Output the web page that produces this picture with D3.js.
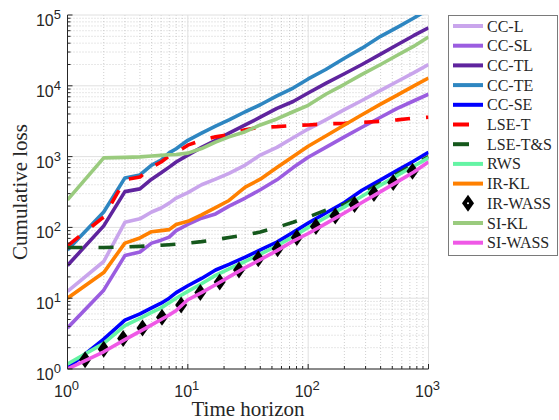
<!DOCTYPE html>
<html>
<head>
<meta charset="utf-8">
<script src="https://cdn.jsdelivr.net/npm/d3@7"></script>
<style>
  body { margin: 0; background: #fff; }
  svg text { fill: #262626; }
</style>
</head>
<body>
<div id="chart"></div>
<script>
// time steps that the curves are sampled at
const steps = [1, 2, 3, 4, 5, 6, 7, 8, 10, 13, 17, 22, 30, 40, 55, 75, 100, 140, 200, 280, 400, 550, 750, 1000];

const ccL  = [12.5, 33, 118, 132, 165, 188, 220, 260, 310, 400, 480, 580, 760, 1050, 1350, 1850, 2450, 3300, 4600, 6200, 8600, 11500, 15200, 20000];
const ccSL = [3.8, 13, 40, 45, 60, 66, 73, 90, 110, 135, 155, 200, 260, 340, 470, 700, 980, 1350, 1900, 2600, 3600, 4800, 6100, 7600];
const ccTL = [29, 105, 320, 350, 480, 590, 710, 840, 1050, 1350, 1700, 2150, 2800, 3600, 4800, 6000, 7900, 10800, 14800, 20000, 28000, 38000, 51000, 66000];
const ccTE = [48, 165, 500, 550, 760, 890, 1130, 1290, 1700, 2150, 2700, 3300, 4300, 5400, 7200, 9300, 12500, 17000, 24500, 34000, 50000, 67000, 90000, 120000];
const ccSE = [1.03, 2.65, 4.9, 6.0, 7.3, 8.5, 10, 12, 15, 19, 25, 30, 38, 48, 62, 85, 115, 160, 225, 335, 470, 640, 860, 1150];
const lseT = [55, 140, 470, 515, 710, 840, 1020, 1130, 1450, 1700, 1900, 2050, 2400, 2600, 2650, 2750, 2800, 2900, 2950, 3050, 3150, 3300, 3500, 3600];
const lseTS = [52, 52, 53, 54, 55, 56, 57, 58, 60, 63, 67, 72, 78, 86, 100, 118, 140, 175, 210, 300, 420, 570, 770, 1000];
const rws  = [1.18, 2.3, 4.1, 5.2, 6.3, 7.3, 8.6, 10, 12.5, 16, 21, 26, 33, 42, 55, 74, 100, 138, 195, 275, 395, 540, 730, 960];
const irKL = [10, 23, 60, 71, 87, 90, 93, 110, 122, 150, 190, 240, 370, 480, 700, 1000, 1400, 1950, 2800, 3900, 5500, 7400, 9900, 12900];
const siKL = [245, 960, 975, 990, 1020, 1040, 1060, 1070, 1120, 1300, 1600, 1900, 2250, 2800, 3400, 4300, 5300, 7600, 10500, 14500, 20000, 27000, 36000, 49000];
const siW  = [1, 1.75, 2.6, 3.4, 4.2, 5.0, 5.8, 6.7, 9.5, 12, 15.5, 20, 27, 35, 47, 64, 82, 113, 160, 225, 320, 440, 600, 840];

// IR-WASS is drawn as markers only, at its own steps
const irWSteps = [1.4, 2, 2.9, 4.2, 6.1, 8.8, 12.7, 18.4, 26.6, 38.5, 55.7, 80.5, 116, 168, 243, 352, 509, 736];
const irW      = [1.35, 1.9, 2.7, 3.8, 5.4, 8, 12, 17, 25, 36, 50, 72, 103, 145, 210, 300, 430, 620];

const names = ["CC-L", "CC-SL", "CC-TL", "CC-TE", "CC-SE", "LSE-T", "LSE-T&S", "RWS", "IR-KL", "IR-WASS", "SI-KL", "SI-WASS"];
const colors = ["#c9a5ec", "#9b5de0", "#5f249e", "#2e86c1", "#0000ff", "#ff0000", "#15581c", "#64f4a4", "#ff8000", "#000000", "#9acb7e", "#ef58e6"];
const values = [ccL, ccSL, ccTL, ccTE, ccSE, lseT, lseTS, rws, irKL, irW, siKL, siW];
const dashed = [false, false, false, false, false, true, true, false, false, false, false, false];

const xTicks = [1, 10, 100, 1000];
const yTicks = [1, 10, 100, 1000, 10000, 100000];

const w = 559, h = 420;
const mLeft = 67.5, mRight = 428.5, mTop = 15, mBottom = 369;

const svg = d3.select("#chart").append("svg")
  .attr("width", w)
  .attr("height", h);

const x = d3.scaleLog().domain([1, 1000]).range([mLeft, mRight]);
const y = d3.scaleLog().domain([1, 100000]).range([mBottom, mTop]);

// minor grid (2..9 inside each decade)
const minorX = [], minorY = [];
for (let d = 1; d < 1000; d *= 10) for (let k = 2; k < 10; k++) minorX.push(d * k);
for (let d = 1; d < 100000; d *= 10) for (let k = 2; k < 10; k++) minorY.push(d * k);

const grid = svg.append("g");
grid.selectAll(".mx").data(minorX).enter().append("line")
  .attr("x1", d => x(d)).attr("x2", d => x(d))
  .attr("y1", mTop).attr("y2", mBottom)
  .attr("stroke", "#c4c4c4").attr("stroke-width", 0.8).attr("stroke-dasharray", "1,2");
grid.selectAll(".my").data(minorY).enter().append("line")
  .attr("y1", d => y(d)).attr("y2", d => y(d))
  .attr("x1", mLeft).attr("x2", mRight)
  .attr("stroke", "#c4c4c4").attr("stroke-width", 0.8).attr("stroke-dasharray", "1,2");
grid.selectAll(".gx").data(xTicks).enter().append("line")
  .attr("x1", d => x(d)).attr("x2", d => x(d))
  .attr("y1", mTop).attr("y2", mBottom)
  .attr("stroke", "#e0e0e0").attr("stroke-width", 1);
grid.selectAll(".gy").data(yTicks).enter().append("line")
  .attr("y1", d => y(d)).attr("y2", d => y(d))
  .attr("x1", mLeft).attr("x2", mRight)
  .attr("stroke", "#e0e0e0").attr("stroke-width", 1);

svg.append("clipPath").attr("id", "clip")
  .append("rect").attr("x", mLeft).attr("y", mTop)
  .attr("width", mRight - mLeft).attr("height", mBottom - mTop);

const plot = svg.append("g").attr("clip-path", "url(#clip)");
const line = d3.line().x(d => x(d[0])).y(d => y(d[1]));

values.forEach((vals, i) => {
  if (names[i] == "IR-WASS") {
    plot.append("g").selectAll("path")
      .data(irWSteps.map((t, j) => [t, vals[j]]))
      .enter().append("path")
      .attr("transform", d => "translate(" + x(d[0]) + "," + y(d[1]) + ")")
      .attr("d", "M0,-8.5L6,0L0,8.5L-6,0Z")
      .attr("fill", "#000");
    return;
  }
  plot.append("path")
    .datum(steps.map((t, j) => [t, vals[j]]))
    .attr("d", line)
    .attr("fill", "none")
    .attr("stroke", colors[i])
    .attr("stroke-width", 3.6)
    .attr("stroke-linejoin", "round")
    .attr("stroke-dasharray", dashed[i] ? "15,16" : null);
});

// axes: plain lines, ticks pointing inward
const axes = svg.append("g");
axes.append("line").attr("x1", mLeft).attr("x2", mLeft).attr("y1", mTop).attr("y2", mBottom)
  .attr("stroke", "#262626").attr("stroke-width", 1);
axes.append("line").attr("x1", mLeft).attr("x2", mRight).attr("y1", mBottom).attr("y2", mBottom)
  .attr("stroke", "#262626").attr("stroke-width", 1);

axes.selectAll(".tx").data(xTicks.concat(minorX)).enter().append("line")
  .attr("x1", d => x(d)).attr("x2", d => x(d))
  .attr("y1", mBottom).attr("y2", d => xTicks.includes(d) ? mBottom - 5 : mBottom - 3)
  .attr("stroke", "#262626").attr("stroke-width", 1);
axes.selectAll(".ty").data(yTicks.concat(minorY)).enter().append("line")
  .attr("y1", d => y(d)).attr("y2", d => y(d))
  .attr("x1", mLeft).attr("x2", d => yTicks.includes(d) ? mLeft + 5 : mLeft + 3)
  .attr("stroke", "#262626").attr("stroke-width", 1);

const tickFont = "'Liberation Sans Narrow', 'Liberation Sans', Arial, sans-serif";

function powLabel(sel) {
  sel.append("tspan").text("10");
  sel.append("tspan").attr("dy", -7).attr("font-size", 13).text(d => Math.round(Math.log10(d)));
}

axes.selectAll(".lx").data(xTicks).enter().append("text")
  .attr("x", d => x(d) - 1)
  .attr("y", 397)
  .attr("text-anchor", "middle")
  .attr("font-family", tickFont)
  .attr("font-size", 16)
  .call(powLabel);

axes.selectAll(".ly").data(yTicks).enter().append("text")
  .attr("x", 61)
  .attr("y", d => y(d) + 11)
  .attr("text-anchor", "end")
  .attr("font-family", tickFont)
  .attr("font-size", 16)
  .call(powLabel);

const serif = "'Liberation Serif', 'Times New Roman', serif";

svg.append("text")
  .attr("x", (mLeft + mRight) / 2)
  .attr("y", 416)
  .attr("text-anchor", "middle")
  .attr("font-family", serif)
  .attr("font-size", 21)
  .text("Time horizon");

svg.append("text")
  .attr("transform", "translate(27," + (mTop + mBottom) / 2 + ") rotate(-90)")
  .attr("text-anchor", "middle")
  .attr("font-family", serif)
  .attr("font-size", 21)
  .text("Cumulative loss");

// legend
const legend = svg.append("g");
legend.append("rect")
  .attr("x", 448.5).attr("y", 15.5)
  .attr("width", 109).attr("height", 240)
  .attr("fill", "#fff").attr("stroke", "#7a7a7a").attr("stroke-width", 1);

names.forEach((n, i) => {
  const ly = 26 + i * 19.7;
  if (n == "IR-WASS") {
    legend.append("path")
      .attr("transform", "translate(468," + ly + ")")
      .attr("d", "M0,-8.5L6,0L0,8.5L-6,0Z")
      .attr("fill", "#000");
    legend.append("circle").attr("cx", 468).attr("cy", ly).attr("r", 1).attr("fill", "#fff");
  } else {
    legend.append("line")
      .attr("x1", 453).attr("x2", dashed[i] ? 469 : 483)
      .attr("y1", ly).attr("y2", ly)
      .attr("stroke", colors[i]).attr("stroke-width", 4);
  }
  legend.append("text")
    .attr("x", 487)
    .attr("y", ly + 5.5)
    .attr("font-family", serif)
    .attr("font-size", 16)
    .text(n);
});
</script>
</body>
</html>
